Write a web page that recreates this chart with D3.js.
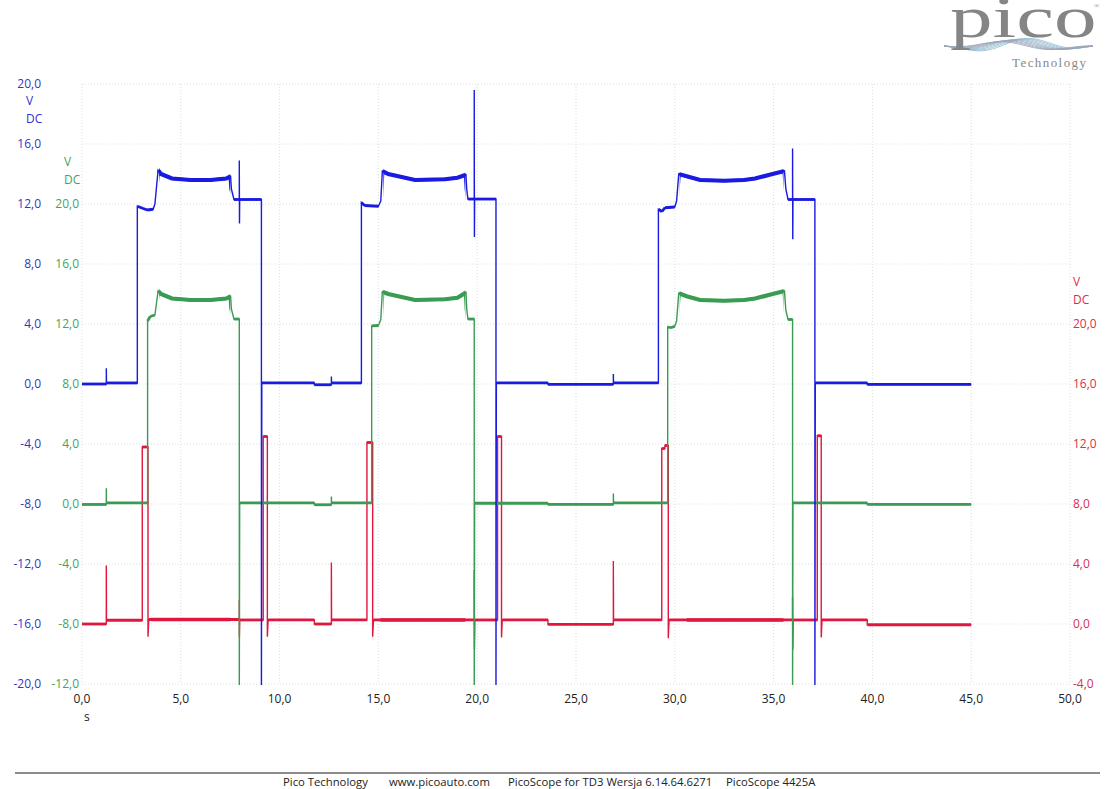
<!DOCTYPE html>
<html>
<head>
<meta charset="utf-8">
<script src="https://cdn.jsdelivr.net/npm/d3@7"></script>
<style>
  body { margin: 0; background: #fff; }
  svg text { font-family: "Open Sans", "Noto Sans", sans-serif; }
</style>
</head>
<body>
<div id="chart"></div>
<script>
// time axis (s)
var timeTicks = [0, 5, 10, 15, 20, 25, 30, 35, 40, 45, 50];
var blueTicks = [-20, -16, -12, -8, -4, 0, 4, 8, 12, 16, 20];
var greenTicks = [-12, -8, -4, 0, 4, 8, 12, 16, 20];
var redTicks = [-4, 0, 4, 8, 12, 16, 20];

// channel A (blue), [t, V]
var blueTrace = [
  [0, 0.0], [1.23, 0.0], [1.23, 1.05], [1.24, 0.07], [2.80, 0.07], [2.80, 11.85], [3.1, 11.7], [3.3, 11.6],
  [3.6, 11.65], [3.69, 12.0], [3.85, 14.25], [4.0, 14.0], [4.55, 13.7], [5.5, 13.6], [6.5, 13.6], [7.3, 13.7],
  [7.52, 13.85], [7.56, 13.0], [7.69, 12.3], [7.96, 12.3], [7.96, 14.9], [7.97, 10.7], [7.98, 12.3], [9.08, 12.3],
  [9.08, -21], [9.10, 0.07], [11.76, 0.07], [11.76, -0.05], [12.62, -0.05], [12.62, 0.5], [12.63, 0.07],
  [14.14, 0.07], [14.14, 12.1], [14.3, 11.9], [15.0, 11.85], [15.12, 12.2], [15.2, 14.2], [15.5, 14.0],
  [16.85, 13.6], [18.37, 13.65], [19.0, 13.75], [19.43, 13.95], [19.47, 13.0], [19.53, 12.33], [19.85, 12.33],
  [19.85, 19.6], [19.86, 9.8], [19.87, 12.33], [20.95, 12.33], [20.95, -21], [20.97, 0.07], [23.58, 0.07],
  [23.58, -0.02], [26.89, -0.02], [26.89, 0.67], [26.90, 0.07], [29.17, 0.07], [29.17, 11.65], [29.35, 11.5],
  [29.5, 11.75], [30.0, 11.8], [30.09, 12.2], [30.2, 14.0], [30.6, 13.85], [31.28, 13.6], [32.5, 13.55],
  [33.5, 13.6], [34.06, 13.7], [34.8, 13.95], [35.55, 14.2], [35.62, 13.0], [35.73, 12.3], [35.96, 12.3],
  [35.96, 15.7], [35.97, 9.65], [35.98, 12.3], [37.09, 12.3], [37.09, -21], [37.11, 0.07], [39.74, 0.07],
  [39.74, -0.03], [45.0, -0.03]
];

// channel B (green)
var greenTrace = [
  [0, -0.03], [1.23, -0.03], [1.23, 1.05], [1.24, 0.07], [3.32, 0.07], [3.32, 12.2], [3.45, 12.5], [3.69, 12.6],
  [3.85, 14.2], [4.0, 14.0], [4.55, 13.7], [5.5, 13.6], [6.5, 13.6], [7.3, 13.7], [7.52, 13.85], [7.56, 13.0],
  [7.69, 12.33], [7.96, 12.33], [7.96, -13], [7.98, 0.07], [11.76, 0.07], [11.76, -0.05], [12.62, -0.05],
  [12.62, 0.5], [12.63, 0.07], [14.66, 0.07], [14.66, 11.87], [15.0, 11.9], [15.12, 12.3], [15.2, 14.15],
  [15.5, 14.0], [16.85, 13.6], [18.37, 13.65], [19.0, 13.75], [19.43, 14.1], [19.47, 13.0], [19.53, 12.33],
  [19.85, 12.33], [19.85, -13], [19.87, 0.05], [23.58, 0.05], [23.58, -0.03], [26.89, -0.03], [26.89, 0.7],
  [26.90, 0.07], [29.64, 0.07], [29.64, 11.8], [29.8, 11.75], [30.0, 11.85], [30.09, 12.2], [30.2, 14.05],
  [30.6, 13.85], [31.28, 13.6], [32.5, 13.55], [33.5, 13.6], [34.06, 13.7], [34.8, 13.95], [35.55, 14.2],
  [35.62, 12.9], [35.73, 12.3], [35.96, 12.3], [35.96, -13], [35.98, 0.07], [39.74, 0.07], [39.74, -0.03],
  [45.0, -0.03]
];

// channel C (red)
var redTrace = [
  [0, 0.0], [1.23, 0.0], [1.23, 3.9], [1.24, 0.25], [3.05, 0.25], [3.05, 11.8], [3.34, 11.8], [3.34, -0.85],
  [3.38, 0.3], [7.96, 0.3], [7.96, 1.6], [7.965, -0.85], [7.98, 0.27], [9.17, 0.27], [9.17, 12.5], [9.38, 12.5],
  [9.38, -0.85], [9.42, 0.27], [11.76, 0.27], [11.76, 0.0], [12.62, 0.0], [12.62, 4.1], [12.63, 0.27],
  [14.42, 0.27], [14.42, 12.1], [14.71, 12.1], [14.71, -0.85], [14.75, 0.27], [19.85, 0.27], [19.85, 3.6],
  [19.86, -1.7], [19.88, 0.27], [21.03, 0.27], [21.03, 12.5], [21.23, 12.5], [21.23, -0.9], [21.27, 0.27],
  [23.58, 0.27], [23.58, -0.02], [26.89, -0.02], [26.89, 4.2], [26.90, 0.27], [29.34, 0.27], [29.34, 11.7],
  [29.5, 11.7], [29.5, 11.9], [29.67, 11.9], [29.67, -0.95], [29.71, 0.27], [35.96, 0.27], [35.96, 1.8],
  [35.97, -1.7], [35.99, 0.27], [37.21, 0.27], [37.21, 12.55], [37.41, 12.55], [37.41, -0.9], [37.45, 0.27],
  [39.74, 0.27], [39.74, -0.05], [45.0, -0.05]
];

// noisy stretches: [from s, to s, half amplitude V]
var blueNoise = [[3.9, 7.5, 0.09], [15.25, 19.4, 0.09], [30.25, 35.5, 0.09]];
var greenNoise = [[3.9, 7.5, 0.09], [15.25, 19.4, 0.09], [30.25, 35.5, 0.09]];
var redNoise = [[3.5, 7.5, 0.07], [15.1, 19.4, 0.07], [30.6, 35.5, 0.07]];

var width = 1114, height = 789;
var pl = 82, pr = 1070, pt = 84, pb = 684;

var colBlue = "#1a1ae0", colGreen = "#3a9c52", colRed = "#e0163e";
var lblBlue = "#3434c8", lblGreen = "#45a35c", lblRed = "#d9304c";

var loc = d3.formatLocale({decimal: ",", thousands: " ", grouping: [3], currency: ["", ""], minus: "-"});
var fmt = loc.format(".1f");

var x = d3.scaleLinear().domain([0, 50]).range([pl, pr]);
var yBlue = d3.scaleLinear().domain([-20, 20]).range([pb, pt]);
var yGreen = d3.scaleLinear().domain([-12, 28]).range([pb, pt]);
var yRed = d3.scaleLinear().domain([-4, 36]).range([pb, pt]);

var svg = d3.select("#chart").append("svg")
  .attr("width", width)
  .attr("height", height);

// grid
var grid = svg.append("g")
  .attr("stroke", "#d6e2e2")
  .attr("stroke-width", 1)
  .attr("stroke-dasharray", "1,2");
grid.selectAll(".vg").data(timeTicks).enter().append("line")
  .attr("x1", function (d) { return x(d); })
  .attr("x2", function (d) { return x(d); })
  .attr("y1", pt).attr("y2", pb);
grid.selectAll(".hg").data(blueTicks).enter().append("line")
  .attr("x1", pl).attr("x2", pr)
  .attr("y1", function (d) { return yBlue(d); })
  .attr("y2", function (d) { return yBlue(d); });

// axis labels
function axisLabels(ticks, scale, xPos, anchor, color) {
  var g = svg.append("g").attr("fill", color).attr("font-size", 12);
  g.selectAll("text").data(ticks).enter().append("text")
    .attr("x", xPos)
    .attr("y", function (d) { return scale(d); })
    .attr("dy", ".35em")
    .attr("text-anchor", anchor)
    .text(function (d) { return fmt(d); });
}
axisLabels(blueTicks, yBlue, 41, "end", lblBlue);
axisLabels(greenTicks, yGreen, 79, "end", lblGreen);
axisLabels(redTicks, yRed, 1073, "start", lblRed);

// unit captions
function unit(xV, xDC, yV, color) {
  svg.append("text").attr("x", xV).attr("y", yV).attr("dy", ".35em")
    .attr("fill", color).attr("font-size", 12).text("V");
  svg.append("text").attr("x", xDC).attr("y", yV + 18).attr("dy", ".35em")
    .attr("fill", color).attr("font-size", 12).text("DC");
}
unit(26, 26, yBlue(20) + 17, lblBlue);
unit(64, 64, yGreen(20) - 42, lblGreen);
unit(1073, 1073, yRed(20) - 42, lblRed);

svg.append("g").attr("font-size", 12).attr("fill", "#222")
  .selectAll("text").data(timeTicks).enter().append("text")
  .attr("x", function (d) { return x(d); })
  .attr("y", pb + 19)
  .attr("text-anchor", "middle")
  .text(function (d) { return fmt(d); });
svg.append("text").attr("x", 84).attr("y", pb + 37)
  .attr("font-size", 12).attr("fill", "#222").text("s");

// traces
svg.append("clipPath").attr("id", "plotclip")
  .append("rect").attr("x", pl).attr("y", pt)
  .attr("width", pr - pl).attr("height", pb - pt + 1);

var plot = svg.append("g").attr("clip-path", "url(#plotclip)");

function drawTrace(data, yScale, color, noise, name) {
  var line = d3.line()
    .x(function (d) { return x(d[0]); })
    .y(function (d) { return yScale(d[1]); });

  // thin verticals, heavier level segments like the scope draws them
  plot.append("path")
    .datum(data)
    .attr("fill", "none")
    .attr("stroke", color)
    .attr("stroke-width", 1.4)
    .attr("d", line);

  var segs = d3.pairs(data).filter(function (p) {
    var dx = Math.abs(x(p[1][0]) - x(p[0][0])),
        dy = Math.abs(yScale(p[1][1]) - yScale(p[0][1]));
    return dy < 2 * dx;
  });
  plot.append("g").selectAll("line").data(segs).enter().append("line")
    .attr("x1", function (p) { return x(p[0][0]); })
    .attr("y1", function (p) { return yScale(p[0][1]); })
    .attr("x2", function (p) { return x(p[1][0]); })
    .attr("y2", function (p) { return yScale(p[1][1]); })
    .attr("stroke", color)
    .attr("stroke-width", 2.8);

  noise.forEach(function (n, i) {
    var id = name + "noise" + i;
    svg.append("clipPath").attr("id", id)
      .append("rect")
      .attr("x", x(n[0])).attr("y", pt)
      .attr("width", x(n[1]) - x(n[0])).attr("height", pb - pt);
    plot.append("path")
      .datum(data)
      .attr("clip-path", "url(#" + id + ")")
      .attr("fill", "none")
      .attr("stroke", color)
      .attr("stroke-width", 1.5 + Math.abs(yScale(0) - yScale(2 * n[2])))
      .attr("d", line);
  });
}

drawTrace(redTrace, yRed, colRed, redNoise, "red");
drawTrace(greenTrace, yGreen, colGreen, greenNoise, "green");
drawTrace(blueTrace, yBlue, colBlue, blueNoise, "blue");

// footer
svg.append("line")
  .attr("x1", 15).attr("x2", 1100)
  .attr("y1", 773).attr("y2", 773)
  .attr("stroke", "#666").attr("stroke-width", 1.5);

var footer = [
  ["Pico Technology", 283],
  ["www.picoauto.com", 389],
  ["PicoScope for TD3 Wersja 6.14.64.6271", 508],
  ["PicoScope 4425A", 726]
];
svg.append("g").attr("font-size", 11.3).attr("fill", "#222")
  .selectAll("text").data(footer).enter().append("text")
  .attr("x", function (d) { return d[1]; })
  .attr("y", 786)
  .text(function (d) { return d[0]; });

// logo
var serif = "'Liberation Serif', 'DejaVu Serif', serif";
var logo = svg.append("g");
var waveX = d3.scaleLinear().domain([0, 1]).range([944, 1093]);
var waves = d3.range(9);
var waveLine = d3.line().curve(d3.curveBasis);
waves.forEach(function (k) {
  var pts = d3.range(0, 1.001, 0.05).map(function (u) {
    var amp = 8 * Math.sin(Math.PI * u) * (1 - k * 0.05);
    return [waveX(u), 46 + amp * Math.sin(2 * Math.PI * (u * 1.3 + k * 0.035))];
  });
  logo.append("path")
    .attr("d", waveLine(pts))
    .attr("fill", "none")
    .attr("stroke", k < 4 ? "#8fbbd2" : "#9aa6b8")
    .attr("stroke-width", 0.8);
});
logo.append("text")
  .attr("transform", "translate(950,37) scale(1.42,1)")
  .style("font-family", serif)
  .attr("font-size", 60)
  .attr("fill", "#858585")
  .text("pico");
logo.append("text")
  .attr("x", 1012).attr("y", 67)
  .style("font-family", serif)
  .attr("font-size", 13)
  .attr("fill", "#888")
  .attr("textLength", 74)
  .text("Technology");
logo.append("text")
  .attr("x", 1094).attr("y", 8)
  .style("font-family", serif)
  .attr("font-size", 7)
  .attr("fill", "#888")
  .text("®");
</script>
</body>
</html>
